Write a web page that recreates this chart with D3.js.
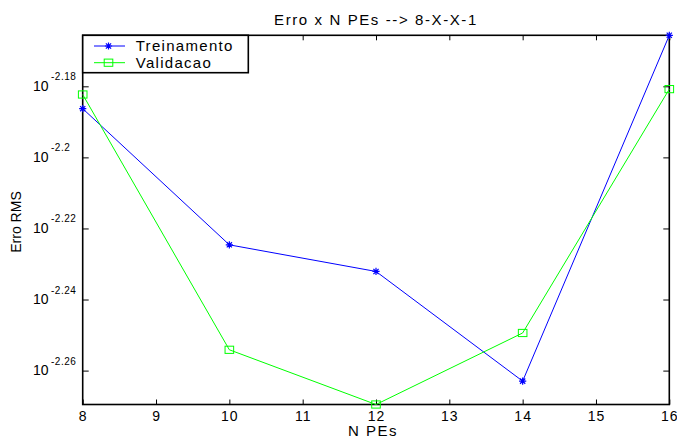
<!DOCTYPE html>
<html><head><meta charset="utf-8">
<script src="https://cdn.jsdelivr.net/npm/d3@7"></script>
<style>
body{margin:0;background:#fff;}
text{font-family:"Liberation Sans",Arial,sans-serif;fill:#000;}
</style></head>
<body><svg id="c" width="677" height="439"></svg>
<script>
const nPEs = [8, 10, 12, 14, 16];
const treinamento = [0.006512, 0.005962, 0.005860, 0.005458, 0.006829];
const validacao   = [0.006572, 0.005570, 0.005376, 0.005631, 0.006595];
const xTicks = [8, 9, 10, 11, 12, 13, 14, 15, 16];
const yTickExps = ["-2.18", "-2.2", "-2.22", "-2.24", "-2.26"];
const seriesNames = ["Treinamento", "Validacao"];

const svg = d3.select("#c");
const L = 82.7, R = 669.3, T = 35.3, B = 404.5;
const x = d3.scaleLinear().domain([8, 16]).range([L, R]);
const allVals = treinamento.concat(validacao);
const y = d3.scaleLog().domain([d3.min(allVals), d3.max(allVals)]).range([B, T]);

// axes
const gB = svg.append("g").attr("transform", `translate(0,${B})`)
  .call(d3.axisBottom(x).tickValues(xTicks).tickSizeInner(-5).tickSizeOuter(0).tickFormat(""));
const gT = svg.append("g").attr("transform", `translate(0,${T})`)
  .call(d3.axisTop(x).tickValues(xTicks).tickSizeInner(-5).tickSizeOuter(0).tickFormat(""));
const yVals = yTickExps.map(e => Math.pow(10, +e));
const gL = svg.append("g").attr("transform", `translate(${L},0)`)
  .call(d3.axisLeft(y).tickValues(yVals).tickSizeInner(-6).tickSizeOuter(0).tickFormat(""));
const gR = svg.append("g").attr("transform", `translate(${R},0)`)
  .call(d3.axisRight(y).tickValues(yVals).tickSizeInner(-6).tickSizeOuter(0).tickFormat(""));
[gB, gT, gL, gR].forEach(g => {
  g.select(".domain").remove();
  g.selectAll(".tick line").attr("stroke", "#000").attr("stroke-width", 1);
});
svg.append("rect").attr("x", L).attr("y", T).attr("width", R - L).attr("height", B - T)
  .attr("fill", "none").attr("stroke", "#000").attr("stroke-width", 1.6);

// x tick labels
svg.append("g").selectAll("text").data(xTicks).join("text")
  .attr("x", d => x(d) + 0.5).attr("y", 421).attr("text-anchor", "middle")
  .attr("font-size", 14).attr("letter-spacing", 1).text(d => d);

// y tick labels
const yl = svg.append("g").selectAll("g").data(yTickExps).join("g")
  .attr("transform", e => `translate(0,${y(Math.pow(10, +e))})`);
yl.append("text").attr("x", 48.5).attr("y", 4.8).attr("text-anchor", "end")
  .attr("font-size", 14).text("10");
yl.append("text").attr("x", 51).attr("y", -6).attr("text-anchor", "start")
  .attr("font-size", 10).attr("letter-spacing", 0.5).text(e => e);

// titles
svg.append("text").attr("x", (L + R) / 2).attr("y", 25).attr("text-anchor", "middle")
  .attr("font-size", 15).attr("letter-spacing", 1.6).text("Erro x N PEs --> 8-X-X-1");
svg.append("text").attr("x", 373).attr("y", 436).attr("text-anchor", "middle")
  .attr("font-size", 15).attr("letter-spacing", 1.5).text("N PEs");
svg.append("text").attr("transform", "translate(21,222) rotate(-90)").attr("text-anchor", "middle")
  .attr("font-size", 14).text("Erro RMS");

// lines
const line = d3.line().x((d, i) => x(nPEs[i])).y(d => y(d));
const colors = ["#0000ff", "#00ff00"];
const data = [treinamento, validacao];
data.forEach((s, k) => {
  svg.append("path").attr("d", line(s)).attr("fill", "none")
    .attr("stroke", colors[k]).attr("stroke-width", 1);
});

function star(g, cx, cy, col) {
  const r = 3.6, d = 2.6;
  g.append("path").attr("d",
    `M${cx - r},${cy}L${cx + r},${cy}M${cx},${cy - r}L${cx},${cy + r}` +
    `M${cx - d},${cy - d}L${cx + d},${cy + d}M${cx - d},${cy + d}L${cx + d},${cy - d}`)
    .attr("stroke", col).attr("stroke-width", 1.2).attr("fill", "none");
}
function square(g, cx, cy, col) {
  g.append("rect").attr("x", cx - 4.3).attr("y", cy - 3.6).attr("width", 8.6).attr("height", 7.2)
    .attr("fill", "none").attr("stroke", col).attr("stroke-width", 1);
}
const mk = svg.append("g");
treinamento.forEach((v, i) => star(mk, x(nPEs[i]), y(v), colors[0]));
validacao.forEach((v, i) => square(mk, x(nPEs[i]), y(v), colors[1]));

// legend
const lg = svg.append("g");
lg.append("rect").attr("x", L).attr("y", T).attr("width", 248.3 - L).attr("height", 72.7 - T)
  .attr("fill", "#fff").attr("stroke", "#000").attr("stroke-width", 1.6);
const ly = [46, 62.7];
seriesNames.forEach((n, k) => {
  lg.append("line").attr("x1", 94).attr("x2", 125).attr("y1", ly[k]).attr("y2", ly[k])
    .attr("stroke", colors[k]).attr("stroke-width", 1);
  if (k === 0) star(lg, 108.5, ly[k], colors[k]); else square(lg, 108.5, ly[k], colors[k]);
  lg.append("text").attr("x", 135.7).attr("y", ly[k] + 5.3).attr("font-size", 15)
    .attr("letter-spacing", 1.3).text(n);
});
</script></body></html>
